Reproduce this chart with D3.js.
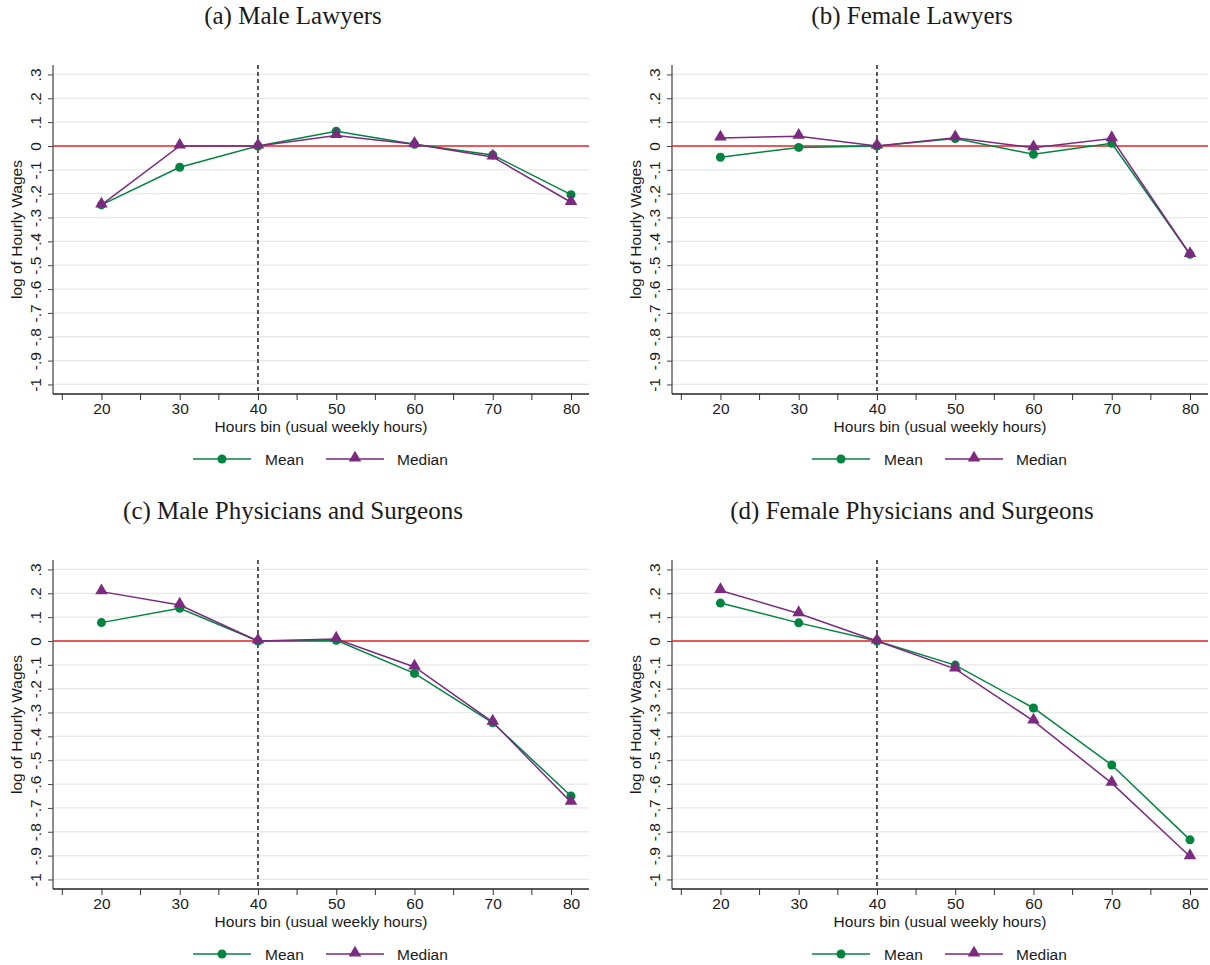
<!DOCTYPE html>
<html>
<head>
<meta charset="utf-8">
<script src="https://cdn.jsdelivr.net/npm/d3@7"></script>
<style>
  body { margin: 0; background: #fff; }
  svg text { font-family: "Liberation Sans", Arial, sans-serif; fill: #1a1a1a; }
  .title { font-family: "Liberation Serif", "Times New Roman", serif !important; }
</style>
</head>
<body>
<svg id="chart" width="1210" height="965"></svg>
<script>
const hours = [20, 30, 40, 50, 60, 70, 80];
const minorHours = [15, 25, 35, 45, 55, 65, 75];
const yTicks = [-1, -0.9, -0.8, -0.7, -0.6, -0.5, -0.4, -0.3, -0.2, -0.1, 0, 0.1, 0.2, 0.3];

const panelTitles = [
  "(a) Male Lawyers",
  "(b) Female Lawyers",
  "(c) Male Physicians and Surgeons",
  "(d) Female Physicians and Surgeons"
];

const maleLawyersMean = [-0.247, -0.089, 0, 0.062, 0.007, -0.038, -0.204];
const maleLawyersMedian = [-0.247, 0.0, 0, 0.044, 0.007, -0.046, -0.236];
const femaleLawyersMean = [-0.047, -0.006, 0, 0.031, -0.035, 0.011, -0.454];
const femaleLawyersMedian = [0.034, 0.041, 0, 0.035, -0.007, 0.031, -0.455];
const malePhysMean = [0.077, 0.137, 0, 0.003, -0.136, -0.343, -0.65];
const malePhysMedian = [0.207, 0.151, 0, 0.008, -0.109, -0.34, -0.676];
const femalePhysMean = [0.159, 0.076, 0, -0.101, -0.281, -0.52, -0.834];
const femalePhysMedian = [0.212, 0.115, 0, -0.117, -0.335, -0.596, -0.904];

const panels = [
  { title: panelTitles[0], mean: maleLawyersMean, median: maleLawyersMedian, dx: 0, dy: 0 },
  { title: panelTitles[1], mean: femaleLawyersMean, median: femaleLawyersMedian, dx: 619, dy: 0 },
  { title: panelTitles[2], mean: malePhysMean, median: malePhysMedian, dx: 0, dy: 495 },
  { title: panelTitles[3], mean: femalePhysMean, median: femalePhysMedian, dx: 619, dy: 495 }
];

const green = "#00843f", purple = "#7b2a7f";
const plotLeft = 53, plotRight = 589, plotTop = 65, plotBottom = 394;
const fs = "15.5px";

const x = d3.scaleLinear().domain([13.81, 82.3]).range([plotLeft, plotRight]);
const y = d3.scaleLinear().domain([-1.04, 0.3396]).range([plotBottom, plotTop]);

// stata style labels: .3, -.1, 0, -1
function fmt(v) {
  let s = Math.abs(v) < 1e-9 ? "0" : (+v.toFixed(1)).toString();
  return s.replace(/^(-?)0\./, "$1.");
}

const svg = d3.select("#chart");
const tri = d3.symbol().type(d3.symbolTriangle).size(68);

panels.forEach(function(p) {
  const g = svg.append("g").attr("transform", "translate(" + p.dx + "," + p.dy + ")");

  // title
  g.append("text")
    .attr("class", "title")
    .attr("x", 293)
    .attr("y", 24)
    .attr("text-anchor", "middle")
    .style("font-size", "25px")
    .text(p.title);

  // gridlines
  g.selectAll(".grid")
    .data(yTicks)
    .enter()
    .append("line")
    .attr("x1", plotLeft)
    .attr("x2", plotRight)
    .attr("y1", function(d) { return y(d); })
    .attr("y2", function(d) { return y(d); })
    .attr("stroke", "#e8e8e8")
    .attr("stroke-width", 1.3);

  // y axis
  const yAxis = g.append("g")
    .attr("transform", "translate(" + plotLeft + ",0)")
    .call(d3.axisLeft(y).tickValues(yTicks).tickSize(5).tickFormat(fmt));
  yAxis.select(".domain").attr("d", "M0," + plotTop + "V" + plotBottom).attr("stroke", "#666").attr("stroke-width", 1.5);
  yAxis.selectAll(".tick line").attr("stroke", "#444").attr("stroke-width", 1);
  yAxis.selectAll(".tick text")
    .attr("x", 0)
    .attr("dy", 0)
    .attr("transform", "translate(-12,0) rotate(-90)")
    .attr("text-anchor", "middle")
    .style("font-size", fs)
    .style("font-family", "'Liberation Sans', Arial, sans-serif")
    .attr("fill", "#1a1a1a");

  // x axis
  const xAxis = g.append("g")
    .attr("transform", "translate(0," + plotBottom + ")")
    .call(d3.axisBottom(x).tickValues(hours).tickSize(6).tickFormat(d3.format("d")));
  xAxis.select(".domain").attr("d", "M" + plotLeft + ",0H" + plotRight).attr("stroke", "#222").attr("stroke-width", 1.3);
  xAxis.selectAll(".tick line").attr("stroke", "#333");
  xAxis.selectAll(".tick text")
    .attr("y", 9)
    .style("font-size", fs)
    .style("font-family", "'Liberation Sans', Arial, sans-serif")
    .attr("fill", "#1a1a1a");

  g.selectAll(".minor")
    .data(minorHours)
    .enter()
    .append("line")
    .attr("x1", function(d) { return x(d); })
    .attr("x2", function(d) { return x(d); })
    .attr("y1", plotBottom)
    .attr("y2", plotBottom + 6)
    .attr("stroke", "#333");

  // axis titles
  g.append("text")
    .attr("transform", "translate(22," + ((plotTop + plotBottom) / 2) + ") rotate(-90)")
    .attr("text-anchor", "middle")
    .style("font-size", fs)
    .text("log of Hourly Wages");

  g.append("text")
    .attr("x", (plotLeft + plotRight) / 2)
    .attr("y", 432)
    .attr("text-anchor", "middle")
    .style("font-size", fs)
    .text("Hours bin (usual weekly hours)");

  // reference lines
  g.append("line")
    .attr("x1", plotLeft).attr("x2", plotRight)
    .attr("y1", y(0)).attr("y2", y(0))
    .attr("stroke", "#e8262a")
    .attr("stroke-width", 1.5);

  g.append("line")
    .attr("x1", x(40)).attr("x2", x(40))
    .attr("y1", plotTop).attr("y2", plotBottom)
    .attr("stroke", "#000")
    .attr("stroke-width", 1.3)
    .attr("stroke-dasharray", "4,3");

  // series
  const line = d3.line()
    .x(function(d, i) { return x(hours[i]); })
    .y(function(d) { return y(d); });

  g.append("path")
    .datum(p.mean)
    .attr("d", line)
    .attr("fill", "none")
    .attr("stroke", green)
    .attr("stroke-width", 1.5);

  g.selectAll(".dot")
    .data(p.mean)
    .enter()
    .append("circle")
    .attr("cx", function(d, i) { return x(hours[i]); })
    .attr("cy", function(d) { return y(d); })
    .attr("r", 4.5)
    .attr("fill", green);

  g.append("path")
    .datum(p.median)
    .attr("d", line)
    .attr("fill", "none")
    .attr("stroke", purple)
    .attr("stroke-width", 1.5);

  g.selectAll(".tri")
    .data(p.median)
    .enter()
    .append("path")
    .attr("d", tri)
    .attr("transform", function(d, i) { return "translate(" + x(hours[i]) + "," + (y(d) - 1) + ")"; })
    .attr("fill", purple);

  // legend
  const lg = g.append("g").attr("transform", "translate(0,459)");
  lg.append("line").attr("x1", 193).attr("x2", 251).attr("y1", 0).attr("y2", 0)
    .attr("stroke", "#45a173").attr("stroke-width", 1.8);
  lg.append("circle").attr("cx", 222).attr("cy", 0).attr("r", 4.5).attr("fill", green);
  lg.append("text").attr("x", 265).attr("y", 5.5).style("font-size", fs).text("Mean");

  lg.append("line").attr("x1", 326).attr("x2", 384).attr("y1", 0).attr("y2", 0)
    .attr("stroke", "#9a5c9d").attr("stroke-width", 1.8);
  lg.append("path").attr("d", tri).attr("transform", "translate(355,-1)").attr("fill", purple);
  lg.append("text").attr("x", 397).attr("y", 5.5).style("font-size", fs).text("Median");
});
</script>
</body>
</html>
